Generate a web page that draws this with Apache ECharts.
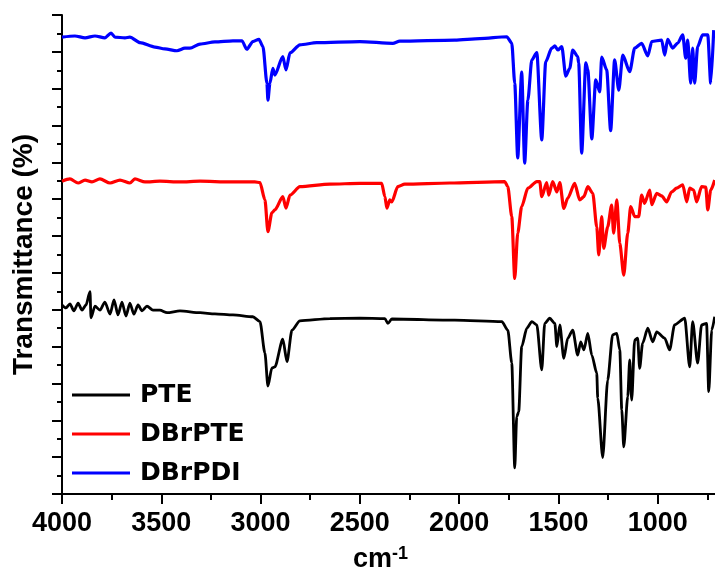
<!DOCTYPE html>
<html>
<head>
<meta charset="utf-8">
<script src="https://cdn.jsdelivr.net/npm/echarts@6/dist/echarts.min.js"></script>
<style>
html,body{margin:0;padding:0;background:#fff;}
#ftir{width:715px;height:569px;}
</style>
</head>
<body>
<div id="ftir"></div>
<script>
// wavenumber (cm-1), transmittance (offset, a.u.)
var pteData = [
    [4000,51.3],[3980,50.5],[3960,51.6],[3940,49.7],[3919,51.8],[3899,49.9],[3879,51.3],[3859,54.9],[3854,47.8],
    [3834,51.0],[3809,49.9],[3784,52.1],[3758,48.8],[3738,52.7],[3718,48.6],[3698,52.1],[3678,48.3],[3658,51.8],
    [3638,48.8],[3617,51.3],[3597,49.7],[3572,51.0],[3542,49.9],[3507,49.9],[3471,49.2],[3406,49.7],[3305,49.2],
    [3230,48.9],[3139,48.6],[3039,48.1],[3003,46.8],[2978,38.2],[2963,29.3],[2943,34.2],[2928,34.5],[2888,42.0],
    [2867,35.9],[2842,44.5],[2802,47.0],[2651,47.6],[2500,47.7],[2374,47.6],[2359,46.3],[2339,47.5],[2022,47.2],
    [1785,46.8],[1755,44.5],[1735,35.6],[1720,7.1],[1710,21.0],[1700,22.3],[1685,40.0],[1659,45.0],[1634,46.8],
    [1609,45.9],[1584,33.7],[1569,46.3],[1544,47.7],[1518,46.3],[1508,40.0],[1493,45.9],[1473,36.8],[1453,42.3],
    [1428,44.5],[1403,37.7],[1388,41.3],[1372,39.1],[1352,43.6],[1332,37.7],[1307,32.8],[1302,26.0],[1277,9.9],
    [1252,30.9],[1227,43.2],[1206,43.6],[1191,39.1],[1181,22.8],[1171,12.8],[1151,26.4],[1141,36.4],[1131,25.5],
    [1116,41.8],[1101,42.3],[1091,34.1],[1076,40.9],[1050,45.0],[1025,41.3],[1005,44.0],[965,42.3],[940,39.1],
    [915,45.9],[864,47.7],[839,34.5],[824,46.8],[799,35.5],[779,45.9],[754,46.3],[743,27.8],[728,44.5],[713,48.1]
];
var dbrpteData = [
    [4000,84.9],[3960,85.5],[3919,84.4],[3884,85.2],[3849,84.7],[3809,85.5],[3758,84.4],[3708,85.2],[3658,84.4],
    [3633,85.5],[3582,84.7],[3507,84.9],[3406,84.7],[3305,84.9],[3154,84.7],[3029,84.7],[3003,84.5],[2978,79.8],
    [2963,71.2],[2943,76.3],[2928,77.1],[2888,80.7],[2872,77.6],[2852,81.1],[2802,83.4],[2651,84.1],[2500,84.3],
    [2390,84.3],[2374,80.7],[2364,77.6],[2349,79.8],[2339,79.3],[2309,83.4],[2274,84.1],[2047,84.4],[1770,84.8],
    [1755,83.4],[1735,75.3],[1720,58.5],[1705,70.8],[1685,78.0],[1654,83.0],[1609,84.8],[1594,84.8],[1584,80.7],
    [1559,84.5],[1549,81.1],[1529,84.8],[1508,82.0],[1493,84.5],[1473,77.5],[1453,80.3],[1418,84.3],[1393,79.8],
    [1372,80.7],[1352,83.4],[1327,81.6],[1307,72.5],[1297,64.9],[1282,75.3],[1272,66.7],[1252,72.5],[1232,78.4],
    [1222,70.8],[1206,79.8],[1191,68.0],[1171,59.4],[1151,70.8],[1136,78.0],[1116,75.3],[1096,75.3],[1081,81.1],
    [1066,78.9],[1040,82.5],[1030,78.5],[1005,81.6],[980,80.9],[955,79.3],[930,82.0],[905,83.0],[874,83.9],
    [854,79.3],[839,83.0],[819,82.5],[804,79.3],[779,83.4],[758,83.3],[748,77.1],[733,82.5],[713,85.2]
];
var dbrpdiData = [
    [4000,124.0],[3935,124.3],[3884,123.8],[3834,124.3],[3784,123.8],[3753,125.1],[3733,124.0],[3683,123.8],
    [3658,124.0],[3607,122.5],[3532,121.3],[3482,120.8],[3421,120.3],[3381,121.0],[3356,121.0],[3305,122.1],
    [3230,122.7],[3139,123.0],[3094,123.0],[3069,120.7],[3039,122.8],[3008,123.4],[2988,121.4],[2968,111.5],
    [2963,106.9],[2953,111.5],[2938,115.5],[2928,113.7],[2888,118.7],[2872,115.1],[2852,119.7],[2802,121.9],
    [2717,122.5],[2500,122.8],[2334,122.3],[2299,122.9],[2022,123.2],[1896,123.6],[1760,124.1],[1735,122.4],
    [1720,111.5],[1705,91.2],[1685,114.5],[1670,89.8],[1654,106.9],[1634,117.8],[1609,119.8],[1584,96.1],
    [1564,117.3],[1534,121.0],[1518,121.6],[1503,120.5],[1483,121.4],[1463,113.4],[1443,115.5],[1428,120.5],
    [1403,118.7],[1398,117.0],[1383,92.5],[1362,117.0],[1352,115.1],[1332,96.4],[1312,112.4],[1292,109.1],
    [1282,118.6],[1257,115.1],[1237,98.6],[1217,117.8],[1196,109.6],[1176,119.1],[1141,114.6],[1116,121.0],
    [1081,122.3],[1050,118.9],[1030,122.8],[980,123.2],[965,119.1],[950,123.4],[925,121.0],[899,122.4],
    [874,124.6],[859,118.3],[849,123.2],[834,111.5],[824,121.0],[814,111.5],[799,121.4],[774,124.6],
    [748,124.6],[733,111.5],[718,125.9]
];
var seriesNames = ['PTE', 'DBrPTE', 'DBrPDI'];
var seriesColors = ['#000000', '#ff0000', '#0000ff'];
var seriesWidths = [2.8, 3.2, 3.2];
var xTicks = [4000, 3500, 3000, 2500, 2000, 1500, 1000];

var FONT = 'Liberation Sans, Arial, sans-serif';
var chart = echarts.init(document.getElementById('ftir'));

var mkSeries = function (i, data) {
    return {
        name: seriesNames[i],
        type: 'line',
        data: data,
        symbol: 'none',
        smooth: 0.25,
        smoothMonotone: 'x',
        lineStyle: {color: seriesColors[i], width: seriesWidths[i]},
        itemStyle: {color: seriesColors[i]},
        animation: false
    };
};

chart.setOption({
    backgroundColor: '#fff',
    // right < 0: the axis runs on to 500 cm-1 past the canvas edge, as in the cropped original
    grid: {left: 62, right: -42, top: 15, bottom: 75, outerBoundsMode: 'none'},
    legend: {
        orient: 'vertical',
        left: 67,
        top: 377,
        icon: 'rect',
        itemWidth: 58,
        itemHeight: 3,
        itemGap: 13,
        data: seriesNames,
        textStyle: {fontFamily: 'DejaVu Sans, sans-serif', fontSize: 25, fontWeight: 'bold', color: '#000', lineHeight: 26, padding: [0, 0, 0, 5]}
    },
    xAxis: {
        type: 'value',
        inverse: true,
        min: 500,
        max: 4000,
        interval: 500,
        name: '{a|cm}{b|-1}',
        nameLocation: 'middle',
        nameGap: 51,
        nameTextStyle: {
            padding: [0, 58, 0, 0],
            rich: {
                a: {fontFamily: FONT, fontSize: 27, fontWeight: 'bold', color: '#000', lineHeight: 30},
                b: {fontFamily: FONT, fontSize: 18, fontWeight: 'bold', color: '#000', verticalAlign: 'top', lineHeight: 18}
            }
        },
        axisLine: {lineStyle: {color: '#000', width: 2}},
        axisTick: {length: 10, lineStyle: {color: '#000', width: 2}},
        minorTick: {show: true, splitNumber: 2, length: 6, lineStyle: {color: '#000', width: 2}},
        splitLine: {show: false},
        axisLabel: {
            margin: 16,
            fontFamily: FONT, fontSize: 27, fontWeight: 'bold', color: '#000',
            formatter: function (v) { return xTicks.indexOf(v) >= 0 ? String(v) : ''; }
        }
    },
    yAxis: {
        type: 'value',
        min: 0,
        max: 130,
        interval: 10,
        name: 'Transmittance (%)',
        nameLocation: 'middle',
        nameGap: 24,
        nameTextStyle: {fontFamily: FONT, fontSize: 28, fontWeight: 'bold', color: '#000'},
        axisLine: {show: true, lineStyle: {color: '#000', width: 2}},
        axisTick: {show: true, length: 10, lineStyle: {color: '#000', width: 2}},
        minorTick: {show: true, splitNumber: 2, length: 5, lineStyle: {color: '#000', width: 2}},
        splitLine: {show: false},
        axisLabel: {show: false}
    },
    series: [
        mkSeries(0, pteData),
        mkSeries(1, dbrpteData),
        mkSeries(2, dbrpdiData)
    ]
});
</script>
</body>
</html>
